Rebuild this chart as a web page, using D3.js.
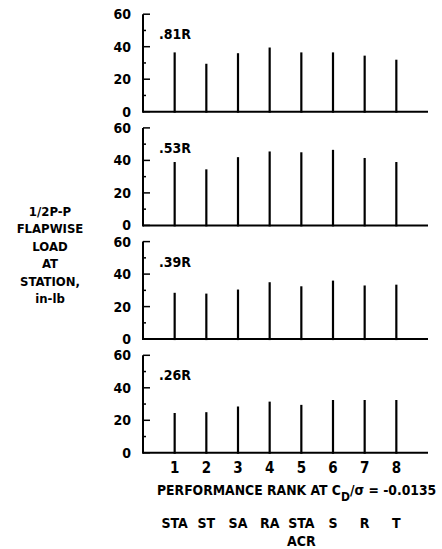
<!DOCTYPE html>
<html>
<head>
<meta charset="utf-8">
<script src="https://cdn.jsdelivr.net/npm/d3@7"></script>
<style>
  body { margin: 0; background: #fff; }
  svg text { font-family: "DejaVu Sans Condensed", "DejaVu Sans", sans-serif; font-weight: bold; fill: #000; }
</style>
</head>
<body>
<div id="chart"></div>
<script>
// stations, top to bottom
var stations = [".81R", ".53R", ".39R", ".26R"];
var ranks = [1, 2, 3, 4, 5, 6, 7, 8];
var configs = ["STA", "ST", "SA", "RA", "STA", "S", "R", "T"];
var configSub = ["", "", "", "", "ACR", "", "", ""];
// 1/2 P-P flapwise load, in-lb, by rank
var load81 = [36.5, 29.5, 36, 39.5, 36.5, 36.5, 34.5, 32];
var load53 = [39, 34.5, 42, 45.5, 45, 46.5, 41.5, 39];
var load39 = [28.5, 28, 30.5, 35, 32.5, 36, 33, 33.5];
var load26 = [24.5, 25, 28.5, 31.5, 29.5, 32.5, 32.5, 32.5];
var loads = [load81, load53, load39, load26];
var yTicks = [0, 20, 40, 60];
var yTitle = ["1/2P-P", "FLAPWISE", "LOAD", "AT", "STATION,", "in-lb"];

var width = 442, height = 549;
var svg = d3.select("#chart").append("svg")
  .attr("width", width).attr("height", height);

var x = d3.scaleLinear().domain([0, 9]).range([143, 428]);
var panelH = 97.5, panelStep = 113.7, firstZero = 111.7;

loads.forEach(function (vals, p) {
  var zero = firstZero + p * panelStep;
  var y = d3.scaleLinear().domain([0, 60]).range([zero, zero - panelH]);
  var g = svg.append("g");

  // y axis, ticks pointing inward
  g.append("line").attr("x1", x(0)).attr("x2", x(0))
    .attr("y1", y(60)).attr("y2", y(0) + 1)
    .attr("stroke", "#000").attr("stroke-width", 2);
  g.selectAll(".tk").data(y.ticks(6)).enter().append("line")
    .attr("x1", x(0)).attr("x2", (d) => x(0) + (d % 20 === 0 ? 7 : 3))
    .attr("y1", (d) => y(d)).attr("y2", (d) => y(d))
    .attr("stroke", "#000").attr("stroke-width", 1.5);
  g.selectAll(".tl").data(yTicks).enter().append("text")
    .attr("x", x(0) - 12).attr("y", (d) => y(d) + 5)
    .attr("text-anchor", "end").attr("font-size", 14)
    .text((d) => d);

  // baseline
  g.append("line").attr("x1", x(0)).attr("x2", x(9))
    .attr("y1", y(0)).attr("y2", y(0))
    .attr("stroke", "#000").attr("stroke-width", 2);

  // bars
  g.selectAll(".bar").data(vals).enter().append("line")
    .attr("x1", (d, i) => x(ranks[i])).attr("x2", (d, i) => x(ranks[i]))
    .attr("y1", y(0) + 1).attr("y2", (d) => y(d))
    .attr("stroke", "#000").attr("stroke-width", 2.2);

  g.append("text").attr("x", x(0) + 16).attr("y", y(60) + 25)
    .attr("font-size", 14).text(stations[p]);
});

// left title
svg.selectAll(".yt").data(yTitle).enter().append("text")
  .attr("x", 50).attr("y", (d, i) => 216 + i * 17.4)
  .attr("text-anchor", "middle").attr("font-size", 13)
  .text((d) => d);

// rank labels
svg.selectAll(".rk").data(ranks).enter().append("text")
  .attr("x", (d) => x(d)).attr("y", 473)
  .attr("text-anchor", "middle").attr("font-size", 15)
  .text((d) => d);

var t = svg.append("text").attr("x", 157).attr("y", 495).attr("font-size", 13.8);
t.append("tspan").text("PERFORMANCE RANK AT C");
t.append("tspan").attr("dy", 6).attr("font-size", 12).text("D");
t.append("tspan").attr("dy", -6).text("/σ = -0.0135");

svg.selectAll(".cf").data(configs).enter().append("text")
  .attr("x", (d, i) => x(ranks[i])).attr("y", 528)
  .attr("text-anchor", "middle").attr("font-size", 14)
  .text((d) => d);
svg.selectAll(".cs").data(configSub).enter().append("text")
  .attr("x", (d, i) => x(ranks[i])).attr("y", 546)
  .attr("text-anchor", "middle").attr("font-size", 14)
  .text((d) => d);
</script>
</body>
</html>
